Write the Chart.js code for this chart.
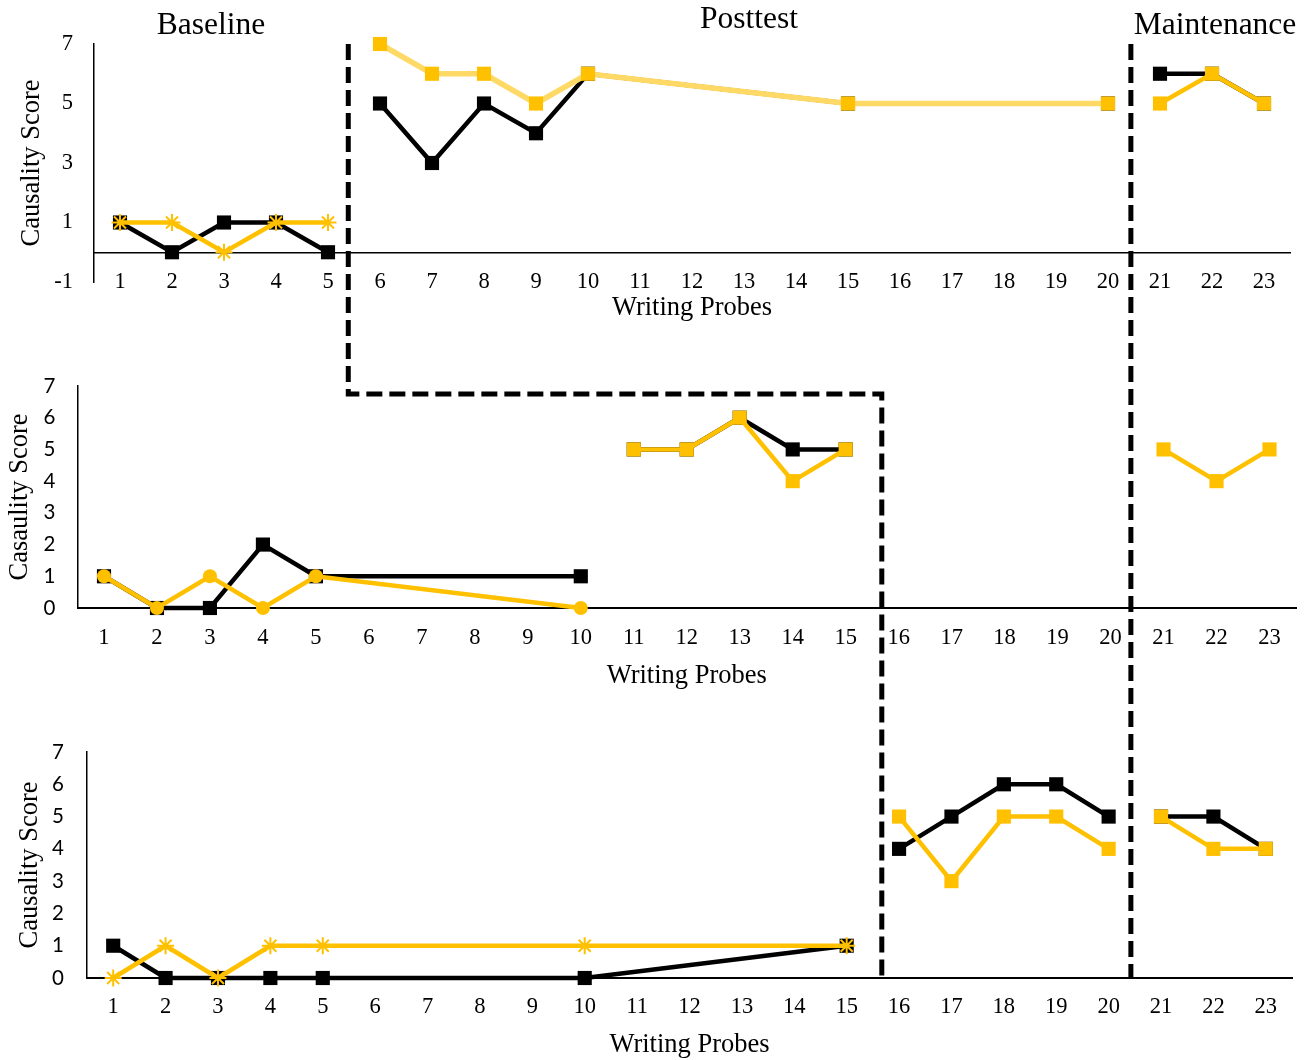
<!DOCTYPE html>
<html>
<head>
<meta charset="utf-8">
<script src="https://cdn.jsdelivr.net/npm/chart.js@4.4.1/dist/chart.umd.min.js"></script>
<style>
  body { margin: 0; background: #fff; }
  #page { position: relative; width: 1306px; height: 1060px; overflow: hidden; }
  #page canvas { position: absolute; left: 0; }
  .phase { position: absolute; font-family: 'Liberation Serif', serif; font-size: 31.5px; color: #000; transform: translate(-50%, -50%); white-space: nowrap; }
</style>
</head>
<body>
<div id="page">
  <canvas id="chartTop" width="1306" height="330" style="top:0"></canvas>
  <canvas id="chartMid" width="1306" height="370" style="top:330px"></canvas>
  <canvas id="chartBottom" width="1306" height="360" style="top:700px"></canvas>
  <canvas id="phaseLines" width="1306" height="1060" style="top:0"></canvas>
  <div class="phase" style="left:211px; top:24px">Baseline</div>
  <div class="phase" style="left:749px; top:18px">Posttest</div>
  <div class="phase" style="left:1215px; top:24px">Maintenance</div>
</div>
<script>
'use strict';

let probeLabels = ['1', '2', '3', '4', '5', '6', '7', '8', '9', '10', '11', '12', '13', '14', '15', '16', '17', '18', '19', '20', '21', '22', '23'];

// top panel
let topBaseProbes = [1, 2, 3, 4, 5];
let topBaseBlack = [1, 0, 1, 1, 0];
let topBaseYellow = [1, 1, 0, 1, 1];
let topPostProbesBlack = [6, 7, 8, 9, 10, 15, 20];
let topPostBlack = [5, 3, 5, 4, 6, 5, 5];
let topPostProbesYellow = [6, 7, 8, 9, 10, 15, 20];
let topPostYellow = [7, 6, 6, 5, 6, 5, 5];
let topMaintProbes = [21, 22, 23];
let topMaintBlack = [6, 6, 5];
let topMaintYellow = [5, 6, 5];
let topTicks = [-1, 1, 3, 5, 7];

// middle panel
let midBaseProbes = [1, 2, 3, 4, 5, 10];
let midBaseBlack = [1, 0, 0, 2, 1, 1];
let midBaseYellow = [1, 0, 1, 0, 1, 0];
let midPostProbes = [11, 12, 13, 14, 15];
let midPostBlack = [5, 5, 6, 5, 5];
let midPostYellow = [5, 5, 6, 4, 5];
let midMaintProbes = [21, 22, 23];
let midMaintYellow = [5, 4, 5];

// bottom panel
let botBaseProbes = [1, 2, 3, 4, 5, 10, 15];
let botBaseBlack = [1, 0, 0, 0, 0, 0, 1];
let botBaseYellow = [0, 1, 0, 1, 1, 1, 1];
let botPostProbes = [16, 17, 18, 19, 20];
let botPostBlack = [4, 5, 6, 6, 5];
let botPostYellow = [5, 3, 5, 5, 4];
let botMaintProbes = [21, 22, 23];
let botMaintBlack = [5, 5, 4];
let botMaintYellow = [5, 4, 4];

let scoreTicks = [0, 1, 2, 3, 4, 5, 6, 7];

let yellow = '#FFC000';
let lightYellow = '#FFD966';
let black = '#000000';

// put the scores on the 23 probe slots, empty elsewhere
function toSlots(probes, scores) {
  let slots = probeLabels.map(function () { return null; });
  for (let i = 0; i < probes.length; i++) {
    slots[probes[i] - 1] = scores[i];
  }
  return slots;
}

function series(probes, scores, color, marker, lineColor, lineWidth) {
  let isStar = marker === 'star';
  return {
    data: toSlots(probes, scores),
    borderColor: lineColor || color,
    borderWidth: lineWidth || 4.5,
    pointStyle: marker,
    pointRadius: isStar ? 8.5 : (marker === 'circle' ? 7 : 10),
    pointBackgroundColor: color,
    pointBorderColor: color,
    pointBorderWidth: isStar ? 2 : 0,
    spanGaps: true,
    clip: false,
    tension: 0,
    order: color === black ? 2 : 1
  };
}

function makeChart(id, datasets, s) {
  return new Chart(document.getElementById(id), {
    type: 'line',
    data: { labels: probeLabels, datasets: datasets },
    options: {
      responsive: false,
      animation: false,
      events: [],
      layout: { padding: { top: s.padTop, bottom: s.padBottom, left: 0, right: s.padRight } },
      plugins: { legend: { display: false }, tooltip: { enabled: false } },
      scales: {
        x: {
          type: 'category',
          position: s.xPosition,
          offset: true,
          grid: { display: false },
          border: { display: true, color: black, width: s.xBorderWidth },
          ticks: { autoSkip: false, maxRotation: 0, padding: s.xTickPad, color: black, font: { family: 'Liberation Serif', size: 22.5 } },
          title: { display: true, text: 'Writing Probes', color: black, padding: { top: 0, bottom: s.xTitlePad }, font: { family: 'Liberation Serif', size: 26.5 } },
          afterFit: function (scale) { scale.height = s.xHeight; }
        },
        y: {
          min: s.yMin,
          max: 7,
          afterBuildTicks: function (scale) {
            scale.ticks = s.yTicks.map(function (v) { return { value: v }; });
          },
          grid: { display: false, drawTicks: false },
          border: { display: true, color: black, width: 1.5 },
          ticks: { padding: s.yTickPad, color: black, font: { family: s.yFont, size: s.yFontSize } },
          title: { display: true, text: s.yTitle, color: black, padding: { top: s.yTitlePad, bottom: 0 }, font: { family: 'Liberation Serif', size: 26.5 } },
          afterFit: function (scale) { scale.width = s.yWidth; }
        }
      }
    }
  });
}

// top panel: the probe axis crosses the score axis at 0
let chartTop = makeChart('chartTop', [
  series(topBaseProbes, topBaseYellow, yellow, 'star'),
  series(topPostProbesYellow, topPostYellow, yellow, 'rect', lightYellow, 5.5),
  series(topMaintProbes, topMaintYellow, yellow, 'rect'),
  series(topBaseProbes, topBaseBlack, black, 'rect'),
  series(topPostProbesBlack, topPostBlack, black, 'rect'),
  series(topMaintProbes, topMaintBlack, black, 'rect')
], {
  padTop: 44, padBottom: 48, padRight: 16, xPosition: { y: 0 }, xBorderWidth: 1.5, xTickPad: 8.6, xHeight: 71.9, xTitlePad: 0,
  yMin: -1, yTicks: topTicks, yTickPad: 21, yFont: 'Liberation Serif', yFontSize: 22.5,
  yTitle: 'Causality Score', yTitlePad: 16.1, yWidth: 94
});

let chartMid = makeChart('chartMid', [
  series(midBaseProbes, midBaseYellow, yellow, 'circle'),
  series(midPostProbes, midPostYellow, yellow, 'rect'),
  series(midMaintProbes, midMaintYellow, yellow, 'rect'),
  series(midBaseProbes, midBaseBlack, black, 'rect'),
  series(midPostProbes, midPostBlack, black, 'rect')
], {
  padTop: 56, padBottom: 10.1, padRight: 5.4, xPosition: 'bottom', xBorderWidth: 2, xTickPad: 8.6, xHeight: 81.9, xTitlePad: -2,
  yMin: 0, yTicks: scoreTicks, yTickPad: 22, yFont: 'Lato', yFontSize: 20.5,
  yTitle: 'Casaulity Score', yTitlePad: 4.1, yWidth: 77.5
});

let chartBottom = makeChart('chartBottom', [
  series(botBaseProbes, botBaseYellow, yellow, 'star'),
  series(botPostProbes, botPostYellow, yellow, 'rect'),
  series(botMaintProbes, botMaintYellow, yellow, 'rect'),
  series(botBaseProbes, botBaseBlack, black, 'rect'),
  series(botPostProbes, botPostBlack, black, 'rect'),
  series(botMaintProbes, botMaintBlack, black, 'rect')
], {
  padTop: 52, padBottom: 1.1, padRight: 14, xPosition: 'bottom', xBorderWidth: 2, xTickPad: 7.6, xHeight: 80.9, xTitlePad: -2,
  yMin: 0, yTicks: scoreTicks, yTickPad: 23, yFont: 'Lato', yFontSize: 20.5,
  yTitle: 'Causality Score', yTitlePad: 14.1, yWidth: 87
});

// dashed phase-change lines, placed with the top chart's probe scale
let ctx = document.getElementById('phaseLines').getContext('2d');
let xs = chartTop.scales.x;
let breakBaseline = xs.getPixelForValue(4.39);
let breakMidPost = xs.getPixelForValue(14.65);
let breakMaint = xs.getPixelForValue(19.44);
let topY = chartTop.chartArea.top;
let stepY = 330 + chartMid.scales.y.getPixelForValue(6.75);
let bottomY = 700 + chartBottom.chartArea.bottom;

ctx.strokeStyle = black;
ctx.lineWidth = 5;
ctx.setLineDash([16, 7]);
ctx.beginPath();
ctx.moveTo(breakBaseline, topY);
ctx.lineTo(breakBaseline, stepY);
ctx.lineTo(breakMidPost, stepY);
ctx.lineTo(breakMidPost, bottomY);
ctx.stroke();
ctx.beginPath();
ctx.moveTo(breakMaint, topY);
ctx.lineTo(breakMaint, bottomY);
ctx.stroke();
</script>
</body>
</html>
